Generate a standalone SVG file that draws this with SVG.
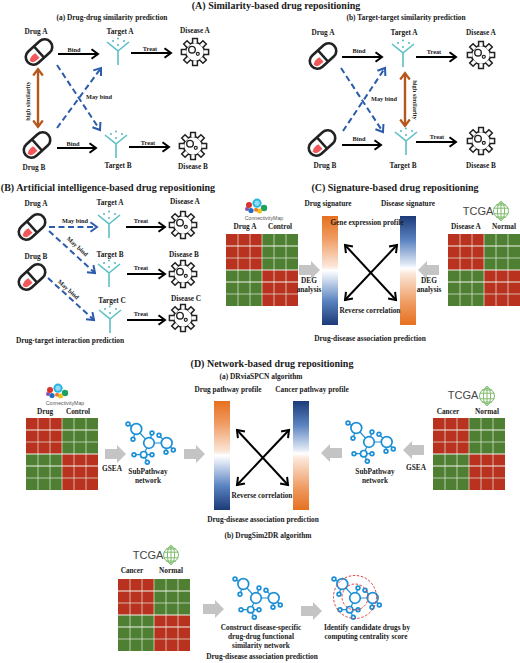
<svg xmlns="http://www.w3.org/2000/svg" width="520" height="663" viewBox="0 0 520 663">
<style>
text{font-family:"Liberation Serif","Times New Roman",serif;font-weight:bold;fill:#1a1a1a;text-anchor:middle;font-size:7.4px}
.h{font-size:10px}
.n{font-size:7.3px}
.s{font-size:6.3px}
.cm{font-family:"Liberation Sans",Arial,sans-serif;font-weight:normal;font-size:5.2px;fill:#555}
.tc{font-family:"Liberation Sans",Arial,sans-serif;font-weight:normal;font-size:11px;fill:#444}
.k{fill:none;stroke:#000;stroke-width:2}
.b{fill:none;stroke:#2b5cab;stroke-width:2;stroke-dasharray:6 3.5}
.o{fill:none;stroke:#b5561c;stroke-width:2.4}
.net circle{fill:#fff;stroke:#1c8fd6;stroke-width:1.7}
</style>
<defs>
<marker id="mk" viewBox="-9 -6 11 12" refX="0" refY="0" markerWidth="11" markerHeight="12" markerUnits="userSpaceOnUse" orient="auto-start-reverse"><path d="M-6.5-4.8L0 0L-6.5 4.8" fill="none" stroke="#000" stroke-width="2"/></marker>
<marker id="mb" viewBox="-9 -6 11 12" refX="0" refY="0" markerWidth="11" markerHeight="12" markerUnits="userSpaceOnUse" orient="auto-start-reverse"><path d="M-6.5-4.8L0 0L-6.5 4.8" fill="none" stroke="#2b5cab" stroke-width="2"/></marker>
<marker id="mo" viewBox="-9 -6 11 12" refX="0" refY="0" markerWidth="11" markerHeight="12" markerUnits="userSpaceOnUse" orient="auto-start-reverse"><path d="M-6.5-4.8L0 0L-6.5 4.8" fill="none" stroke="#b5561c" stroke-width="2.2"/></marker>
<linearGradient id="gO" x1="0" y1="0" x2="0" y2="1"><stop offset="0" stop-color="#e6701f"/><stop offset=".2" stop-color="#ef9a60"/><stop offset=".46" stop-color="#fbe6d8"/><stop offset=".5" stop-color="#fff"/><stop offset=".56" stop-color="#dde6f4"/><stop offset=".78" stop-color="#5a83c0"/><stop offset="1" stop-color="#1c3a78"/></linearGradient>
<linearGradient id="gB" x1="0" y1="0" x2="0" y2="1"><stop offset="0" stop-color="#1c3a78"/><stop offset=".22" stop-color="#5a83c0"/><stop offset=".44" stop-color="#dde6f4"/><stop offset=".48" stop-color="#fff"/><stop offset=".53" stop-color="#fbe6d8"/><stop offset=".8" stop-color="#ef9a60"/><stop offset="1" stop-color="#e6701f"/></linearGradient>
<g id="pill"><g transform="rotate(-42)"><rect x="-15.2" y="-7.6" width="30.4" height="15.2" rx="7.6" fill="#fff" stroke="#222" stroke-width="2.6"/><path d="M0-7.6V7.6" stroke="#222" stroke-width="2.4"/><path d="M-3.5-1.5V4.6H-8.5A4.6 4.6 0 0 1-12.6 0Q-8-3-3.5-1.5Z" fill="#f2575a"/></g></g>
<g id="target"><path d="M0 14V0L-11-9M0 0L11-9" fill="none" stroke="#5bbfc6" stroke-width="1.6"/><g fill="#3fb3bd"><circle cx="-5" cy="-10" r=".9"/><circle cx="0" cy="-12.5" r=".9"/><circle cx="6" cy="-10" r=".9"/><circle cx="0" cy="-6" r=".9"/></g></g>
<g id="tooth"><path d="M-2.4-8.6V-13.6H2.4V-8.6" fill="#fff" stroke="#222" stroke-width="1.5"/></g>
<g id="gear"><circle r="9.4" fill="#fff" stroke="#222" stroke-width="1.5"/><use href="#tooth"/><use href="#tooth" transform="rotate(45)"/><use href="#tooth" transform="rotate(90)"/><use href="#tooth" transform="rotate(135)"/><use href="#tooth" transform="rotate(180)"/><use href="#tooth" transform="rotate(225)"/><use href="#tooth" transform="rotate(270)"/><use href="#tooth" transform="rotate(315)"/><circle cx="-3" cy="-2.3" r="3.3" fill="none" stroke="#222" stroke-width="1.4"/><circle cx="2.8" cy="1.8" r="1.5" fill="none" stroke="#222" stroke-width="1.2"/></g>
<g id="heat">
<rect width="36" height="36" fill="#b9311f"/><rect x="36" width="36" height="36" fill="#4e7f33"/><rect y="36" width="36" height="36" fill="#4e7f33"/><rect x="36" y="36" width="36" height="36" fill="#b9311f"/>
<path d="M12 0V72M24 0V72M48 0V72M60 0V72M36 0V72" stroke="#e8efe0" stroke-width=".7" fill="none"/>
<path d="M0 12H72M0 36H72M0 48H72" stroke="#f2f5ee" stroke-width="1.1" fill="none"/><path d="M0 24H72M0 60H72" stroke="#e8efe0" stroke-width=".7" fill="none"/>
</g>
<path id="ar" d="M0-5H12V-9L21 0L12 9V5H0Z" fill="#c4c4c4"/>
<g id="net" class="net">
<path d="M-21-19L-12.7-14L0 0L17.7 0M-16-3.7L-12.7-14M3-10L0 0M10-7.7L17.7 0M17 9.3L17.7 0M24.3 7L17.7 0M0 0L-5.3 11.7M-15 11.7H3M-1.7 19.3L-5.3 11.7" fill="none" stroke="#1c8fd6" stroke-width="1.2"/>
<circle cx="-12.7" cy="-14" r="5.4"/><circle cx="-21" cy="-19" r="1.9"/><circle cx="-16" cy="-3.7" r="1.9"/><circle r="5.3"/><circle cx="3" cy="-10" r="1.9"/><circle cx="10" cy="-7.7" r="1.9"/><circle cx="17.7" r="5.4"/><circle cx="17" cy="9.3" r="1.9"/><circle cx="24.3" cy="7" r="1.9"/><circle cx="-5.3" cy="11.7" r="3.2"/><circle cx="-15" cy="11.7" r="1.9"/><circle cx="3" cy="11.7" r="1.9"/><circle cx="-1.7" cy="19.3" r="1.9"/>
</g>
<g id="cmap"><circle cx="-9" cy="2" r="2" fill="#8a4fb0"/><circle cx="-7" cy="-2" r="3" fill="#d8342c"/><circle cx="8" cy="1" r="3.2" fill="#1fa060"/><circle cx="3.5" cy="4" r="2.5" fill="#f0c020"/><circle cx="-5" cy="3.5" r="2.6" fill="#1f6fc0"/><circle cx="0" cy="2.8" r="2" fill="#ef7a2a"/><circle cx="1" cy="-3.8" r="4.6" fill="#26b5e0"/><circle cx="1" cy="-3.8" r="2.6" fill="#8fdcf2"/></g>
<g id="globe" fill="none" stroke="#7fbb6c" stroke-width="1"><circle r="7.5"/><ellipse rx="3.6" ry="9.5"/><path d="M0-10V10M-7.2-2.8H7.2M-7.2 2.8H7.2M-5-6H5M-5 6H5"/></g>
</defs>
<rect width="520" height="663" fill="#fff"/>

<g id="connectors">
<path class="k" marker-end="url(#mk)" d="M58 54H98"/><path class="k" marker-end="url(#mk)" d="M131 53H171"/><path class="k" marker-end="url(#mk)" d="M57 148H96"/><path class="k" marker-end="url(#mk)" d="M129 147H169"/>
<path class="k" marker-end="url(#mk)" d="M342 57H382"/><path class="k" marker-end="url(#mk)" d="M416 57H456"/><path class="k" marker-end="url(#mk)" d="M342 145H381"/><path class="k" marker-end="url(#mk)" d="M416 142H456"/>
<path class="k" marker-end="url(#mk)" d="M126 227H165"/><path class="k" marker-end="url(#mk)" d="M127 274H165"/><path class="k" marker-end="url(#mk)" d="M127 320H165"/>
<path class="k" marker-start="url(#mk)" marker-end="url(#mk)" d="M345 245L396 300"/>
<path class="k" marker-start="url(#mk)" marker-end="url(#mk)" d="M345 300L397 245"/>
<path class="k" marker-start="url(#mk)" marker-end="url(#mk)" d="M237 430L288 485"/>
<path class="k" marker-start="url(#mk)" marker-end="url(#mk)" d="M237 485L289 430"/>
<path class="o" marker-start="url(#mo)" marker-end="url(#mo)" d="M38 69V127"/>
<path class="o" marker-start="url(#mo)" marker-end="url(#mo)" d="M405 73V126"/>
<path class="b" marker-end="url(#mb)" d="M57 65L100 130"/>
<path class="b" marker-end="url(#mb)" d="M57 128L101 68"/>
<path class="b" marker-end="url(#mb)" d="M341 68L383 132"/>
<path class="b" marker-end="url(#mb)" d="M343 131L385 68"/>
<path class="b" marker-end="url(#mb)" d="M49 227H97"/>
<path class="b" marker-end="url(#mb)" d="M49 231L95 273"/>
<path class="b" marker-end="url(#mb)" d="M48 278L94 320"/>
<use href="#ar" x="299" y="270"/>
<use href="#ar" transform="translate(439 270) scale(-1 1)"/>
<use href="#ar" x="105" y="454"/>
<use href="#ar" x="184" y="454"/>
<use href="#ar" transform="translate(342 453) scale(-1 1)"/>
<use href="#ar" transform="translate(424 450) scale(-1 1)"/>
<use href="#ar" x="203" y="609"/>
<use href="#ar" x="301" y="611"/>
</g>

<g id="headings">
<text class="h" x="276" y="9">(A) Similarity-based drug repositioning</text>
<text x="112" y="20">(a) Drug-drug similarity prediction</text>
<text x="406" y="20">(b) Target-target similarity prediction</text>
<text class="h" x="108" y="191">(B) Artificial intelligence-based drug repositioning</text>
<text class="h" x="395" y="191">(C) Signature-based drug repositioning</text>
<text class="h" x="272" y="367">(D) Network-based drug repositioning</text>
<text x="261" y="379">(a) DRviaSPCN algorithm</text>
<text x="268" y="538">(b) DrugSim2DR algorithm</text>
<text x="70" y="343">Drug-target interaction prediction</text>
<text x="370" y="341">Drug-disease association prediction</text>
<text x="263" y="522">Drug-disease association prediction</text>
<text x="262" y="659">Drug-disease association prediction</text>
</g>

<g id="panel-a-a">
<g id="aa-drug-a"><use href="#pill" x="39" y="52"/><text class="n" x="36" y="34">Drug A</text></g>
<g id="aa-drug-b"><use href="#pill" x="37" y="145"/><text class="n" x="34" y="170">Drug B</text></g>
<g id="aa-target-a"><use href="#target" x="118" y="51"/><text class="n" x="120" y="34">Target A</text></g>
<g id="aa-target-b"><use href="#target" x="116" y="144"/><text class="n" x="118" y="168">Target B</text></g>
<g id="aa-disease-a"><use href="#gear" x="195" y="52"/><text class="n" x="195" y="33">Disease A</text></g>
<g id="aa-disease-b"><use href="#gear" x="193" y="146"/><text class="n" x="193" y="169">Disease B</text></g>
<g id="aa-labels"><text class="s" x="74" y="52">Bind</text><text class="s" x="150" y="51">Treat</text><text class="s" x="73" y="146">Bind</text><text class="s" x="148" y="145">Treat</text><text class="s" x="99" y="99">May bind</text><text class="s" transform="translate(30 101) rotate(-90)">high similarity</text></g>
</g>

<g id="panel-a-b">
<g id="ab-drug-a"><use href="#pill" x="323" y="56"/><text class="n" x="323" y="35">Drug A</text></g>
<g id="ab-drug-b"><use href="#pill" x="322" y="143"/><text class="n" x="325" y="168">Drug B</text></g>
<g id="ab-target-a"><use href="#target" x="403" y="53"/><text class="n" x="404" y="35">Target A</text></g>
<g id="ab-target-b"><use href="#target" x="406" y="141"/><text class="n" x="403" y="168">Target B</text></g>
<g id="ab-disease-a"><use href="#gear" x="481" y="55"/><text class="n" x="481" y="35">Disease A</text></g>
<g id="ab-disease-b"><use href="#gear" x="481" y="141"/><text class="n" x="481" y="168">Disease B</text></g>
<g id="ab-labels"><text class="s" x="359" y="53">Bind</text><text class="s" x="434" y="54">Treat</text><text class="s" x="359" y="141">Bind</text><text class="s" x="437" y="139">Treat</text><text class="s" x="384" y="101">May bind</text><text class="s" transform="translate(413 100) rotate(90)">high similarity</text></g>
</g>

<g id="panel-b">
<g id="b-drug-a"><use href="#pill" x="32" y="227"/><text class="n" x="36" y="206">Drug A</text></g>
<g id="b-drug-b"><use href="#pill" x="32" y="277"/><text class="n" x="36" y="259">Drug B</text></g>
<g id="b-target-a"><use href="#target" x="109" y="224"/><text class="n" x="110" y="205">Target A</text></g>
<g id="b-target-b"><use href="#target" x="109" y="273"/><text class="n" x="110" y="257">Target B</text></g>
<g id="b-target-c"><use href="#target" x="110" y="319"/><text class="n" x="112" y="303">Target C</text></g>
<g id="b-disease-a"><use href="#gear" x="183" y="225"/><text class="n" x="185" y="204">Disease A</text></g>
<g id="b-disease-b"><use href="#gear" x="183" y="274"/><text class="n" x="184" y="257">Disease B</text></g>
<g id="b-disease-c"><use href="#gear" x="183" y="318"/><text class="n" x="186" y="301">Disease C</text></g>
<g id="b-labels"><text class="s" x="75" y="223">May bind</text><text class="s" transform="translate(76 248) rotate(42)">May bind</text><text class="s" transform="translate(67 291) rotate(42)">May bind</text><text class="s" x="141" y="223">Treat</text><text class="s" x="141" y="270">Treat</text><text class="s" x="141" y="316">Treat</text></g>
</g>

<g id="panel-c">
<g id="c-cmap"><use href="#cmap" x="256" y="207"/><text class="cm" x="264" y="220">ConnectivityMap</text></g>
<g id="c-heat-left"><use href="#heat" x="226" y="234"/><text class="n" x="245" y="229">Drug A</text><text class="n" x="280" y="229">Control</text></g>
<g id="c-bar-left"><rect x="322" y="216" width="16" height="109" fill="url(#gO)"/><text class="n" x="328" y="206">Drug signature</text></g>
<g id="c-bar-right"><rect x="400" y="216" width="16" height="109" fill="url(#gB)"/><text class="n" x="408" y="206">Disease signature</text></g>
<g id="c-tcga"><text class="tc" x="478" y="215">TCGA</text><use href="#globe" x="501" y="211"/></g>
<g id="c-heat-right"><use href="#heat" x="448" y="234"/><text class="n" x="466" y="229">Disease A</text><text class="n" x="504" y="229">Normal</text></g>
<g id="c-labels"><text class="n" x="367" y="225">Gene expression profile</text><text class="n" x="370" y="313">Reverse correlation</text><text class="n" x="309" y="283">DEG</text><text class="n" x="309" y="292">analysis</text><text class="n" x="429" y="283">DEG</text><text class="n" x="429" y="292">analysis</text></g>
</g>

<g id="panel-d-a">
<g id="d-cmap"><use href="#cmap" x="57" y="392"/><text class="cm" x="65" y="405">ConnectivityMap</text></g>
<g id="d-heat-left"><use href="#heat" x="26" y="418"/><text class="n" x="45" y="414">Drug</text><text class="n" x="78" y="414">Control</text></g>
<g id="d-net-left"><use href="#net" x="149" y="443"/><text class="n" x="148" y="474">SubPathway</text><text class="n" x="148" y="483">network</text></g>
<g id="d-bar-left"><rect x="214" y="401" width="16" height="109" fill="url(#gO)"/><text class="n" x="228" y="392">Drug pathway profile</text></g>
<g id="d-bar-right"><rect x="293" y="401" width="16" height="109" fill="url(#gB)"/><text class="n" x="312" y="392">Cancer pathway profile</text></g>
<g id="d-net-right"><use href="#net" x="369" y="442"/><text class="n" x="375" y="474">SubPathway</text><text class="n" x="375" y="483">network</text></g>
<g id="d-tcga"><text class="tc" x="463" y="399">TCGA</text><use href="#globe" x="487" y="396"/></g>
<g id="d-heat-right"><use href="#heat" x="433" y="418"/><text class="n" x="448" y="414">Cancer</text><text class="n" x="487" y="414">Normal</text></g>
<g id="d-labels"><text class="n" x="112" y="471">GSEA</text><text class="n" x="416" y="470">GSEA</text><text class="n" x="262" y="498">Reverse correlation</text></g>
</g>

<g id="panel-d-b">
<g id="e-tcga"><text class="tc" x="148" y="559">TCGA</text><use href="#globe" x="171" y="555"/></g>
<g id="e-heat"><use href="#heat" x="118" y="579"/><text class="n" x="132" y="573">Cancer</text><text class="n" x="171" y="573">Normal</text></g>
<g id="e-net"><use href="#net" x="256" y="598"/><text class="n" x="261" y="630">Construct disease-specific</text><text class="n" x="261" y="639">drug-drug functional</text><text class="n" x="261" y="648">similarity network</text></g>
<g id="e-centrality"><use href="#net" x="355" y="598"/><g fill="none" stroke="#d9302c" stroke-width=".9" stroke-dasharray="2.5 1.6"><circle cx="355" cy="597" r="21.5"/><circle cx="355" cy="597" r="13"/></g><text class="n" x="367" y="630">Identify candidate drugs by</text><text class="n" x="366" y="639">computing centrality score</text></g>
</g>
</svg>
